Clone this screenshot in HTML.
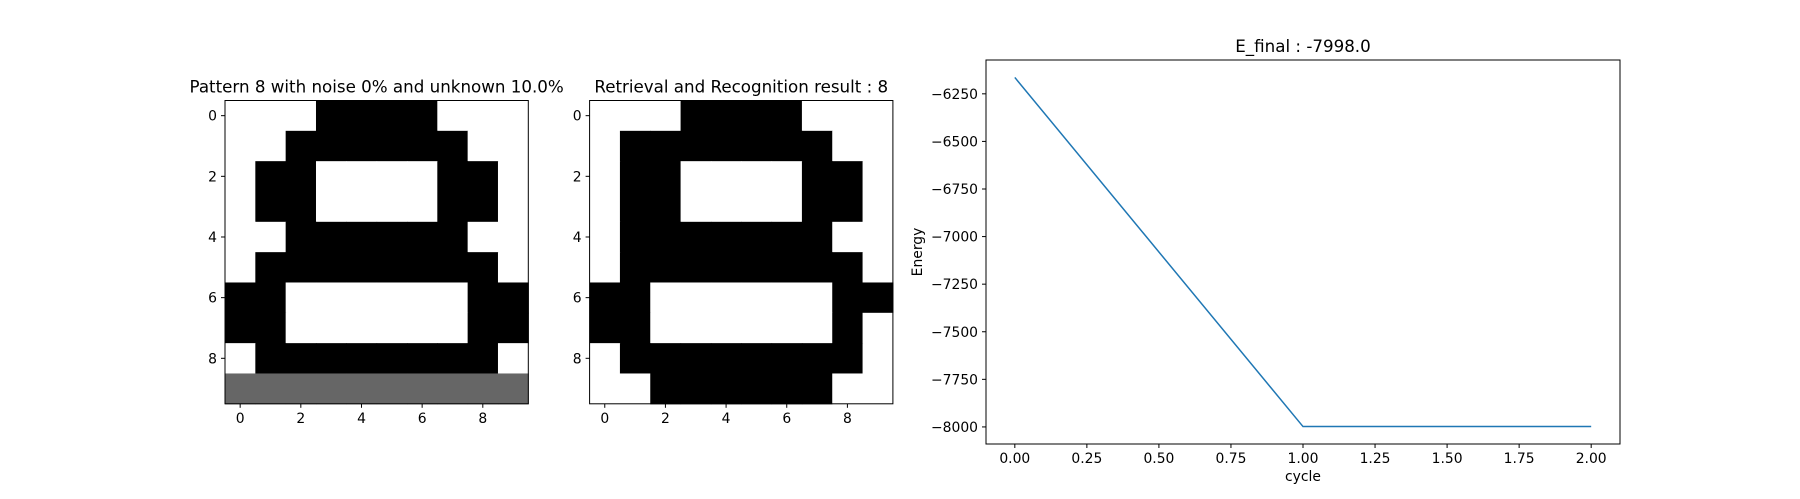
<!DOCTYPE html>
<html><head><meta charset="utf-8"><style>
html,body{margin:0;padding:0;background:#fff;}
svg{display:block;font-family:"DejaVu Sans","Liberation Sans",sans-serif;}
</style></head><body>
<svg id="fig" width="1800" height="499" viewBox="0 0 1800 499"></svg>
<script>
const pattern1 = [
"0001111000",
"0011111100",
"0110000110",
"0110000110",
"0011111100",
"0111111110",
"1100000011",
"1100000011",
"0111111110",
"GGGGGGGGGG"];
const pattern2 = [
"0001111000",
"0111111100",
"0110000110",
"0110000110",
"0111111100",
"0111111110",
"1100000011",
"1100000010",
"0111111110",
"0011111100"];
const imgTicks = [0,2,4,6,8];
const cycles = [0,1,2];
const energies = [-6164,-7998,-7998];
const xTicks = [0,0.25,0.5,0.75,1.0,1.25,1.5,1.75,2.0];
const yTicks = [-6250,-6500,-6750,-7000,-7250,-7500,-7750,-8000];

const NS="http://www.w3.org/2000/svg";
const svg=document.getElementById('fig');
function mk(tag,attrs,parent){const e=document.createElementNS(NS,tag);for(const k in attrs)e.setAttribute(k,attrs[k]);(parent||svg).appendChild(e);return e;}
function txt(s,attrs,parent){const e=mk('text',attrs,parent);e.textContent=s;return e;}

function drawImage(grid,x0,y0,size,title,name){
  const g=mk('g',{});
  
  
  const c=size/10;
  for(let r=0;r<10;r++)for(let k=0;k<10;k++){
    const v=grid[r][k];
    const fill=v==='1'?'#000':(v==='G'?'#666':'#fff');
    const rc=mk('rect',{x:x0+k*c,y:y0+r*c,width:c+0.5,height:c+0.5,fill:fill},g);
    
    
  }
  mk('rect',{x:x0,y:y0,width:size,height:size,fill:'none',stroke:'#000','stroke-width':1},g);
  imgTicks.forEach(t=>{
    const px=x0+(t+0.5)*c, py=y0+(t+0.5)*c;
    mk('line',{x1:px,y1:y0+size,x2:px,y2:y0+size+4,stroke:'#000'},g);
    const tx=txt(String(t),{x:px,y:y0+size+19,'font-size':13.9,'text-anchor':'middle'},g);
    
    
    mk('line',{x1:x0-4,y1:py,x2:x0,y2:py,stroke:'#000'},g);
    const ty=txt(String(t),{x:x0-8,y:py+5,'font-size':13.9,'text-anchor':'end'},g);
    
    
  });
  const tt=txt(title,{x:x0+size/2,y:y0-8,'font-size':16.7,'text-anchor':'middle'},g);
  
  
}
drawImage(pattern1,225,100.5,303.3,'Pattern 8 with noise 0% and unknown 10.0%','input-pattern-image');
drawImage(pattern2,589.6,100.5,303.3,'Retrieval and Recognition result : 8','result-pattern-image');

const L=986,R=1620,T=60,B=444;
const xmin=-0.1,xmax=2.1,ymin=-8089.7,ymax=-6072.3;
const sx=v=>L+(v-xmin)/(xmax-xmin)*(R-L);
const sy=v=>B-(v-ymin)/(ymax-ymin)*(B-T);
const lg=mk('g',{});


mk('rect',{x:L,y:T,width:R-L,height:B-T,fill:'#fff'},lg);
const pts=cycles.map((c,i)=>sx(c)+','+sy(energies[i])).join(' ');
const pl=mk('polyline',{points:pts,fill:'none',stroke:'#1f77b4','stroke-width':1.5},lg);


mk('rect',{x:L,y:T,width:R-L,height:B-T,fill:'none',stroke:'#000','stroke-width':1},lg);
xTicks.forEach(t=>{
  const px=sx(t);
  mk('line',{x1:px,y1:B,x2:px,y2:B+4,stroke:'#000'},lg);
  const e=txt(t.toFixed(2),{x:px,y:B+19,'font-size':13.9,'text-anchor':'middle'},lg);
  
  
});
yTicks.forEach(t=>{
  const py=sy(t);
  mk('line',{x1:L-4,y1:py,x2:L,y2:py,stroke:'#000'},lg);
  const e=txt('\u2212'+Math.abs(t),{x:L-8,y:py+5,'font-size':13.9,'text-anchor':'end'},lg);
  
  
});
const ct=txt('E_final : -7998.0',{x:(L+R)/2,y:T-8,'font-size':16.7,'text-anchor':'middle'},lg);


const xl=txt('cycle',{x:(L+R)/2,y:B+37,'font-size':13.9,'text-anchor':'middle'},lg);


const yl=txt('Energy',{x:0,y:0,'font-size':13.9,'text-anchor':'middle',transform:'translate(922,'+((T+B)/2)+') rotate(-90)'},lg);


</script>
</body></html>
